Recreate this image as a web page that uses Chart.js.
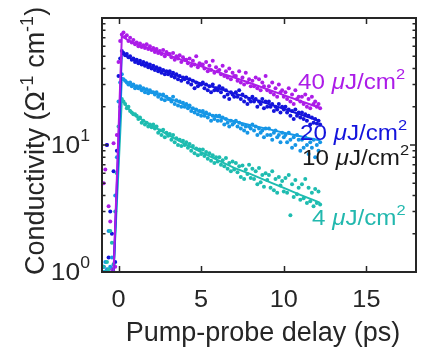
<!DOCTYPE html>
<html>
<head>
<meta charset="utf-8">
<script src="https://cdn.jsdelivr.net/npm/chart.js@4.4.1/dist/chart.umd.min.js"></script>
<style>
html,body{margin:0;padding:0;background:#fff;}
#wrap{width:422px;height:349px;}
</style>
</head>
<body>
<div id="wrap"><canvas id="c" width="422" height="349"></canvas></div>
<script>
// ---------- DATA ----------
const delay = [
 -0.9,-0.8,-0.7,-0.6,-0.5,-0.4,-0.3,-0.2,-0.1,0.0,
 0.1,0.2,0.3,0.4,0.5,0.6,0.7,0.8,0.9,1.0,
 1.1,1.2,1.3,1.4,1.5,1.6,1.7,1.8,1.9,2.0,
 2.1,2.2,2.3,2.4,2.5,2.6,2.7,2.8,2.9,3.0,
 3.1,3.2,3.3,3.4,3.5,3.6,3.7,3.8,3.9,4.0,
 4.1,4.2,4.3,4.4,4.5,4.6,4.7,4.8,4.9,5.0,
 5.1,5.2,5.3,5.4,5.5,5.6,5.7,5.8,5.9,6.0,
 6.1,6.2,6.3,6.4,6.5,6.6,6.7,6.8,6.9,7.0,
 7.1,7.2,7.3,7.4,7.5,7.6,7.7,7.8,7.9,8.0,
 8.1,8.2,8.3,8.4,8.5,8.6,8.7,8.8,8.9,9.0,
 9.1,9.2,9.3,9.4,9.5,9.6,9.7,9.8,9.9,10.0,
 10.1,10.2,10.3,10.4,10.5,10.6,10.7,10.8,10.9,11.0,
 11.1,11.2,11.3,11.4,11.5,11.6,11.7,11.8,11.9,12.0,
 12.1,12.2
];
const meas40 = [
 5.0,6.4,10,3.3,2.5,1.05,10.3,1.1,12,45,
 66,74,77,71,73,66,70,64,67,62,
 64,60,63,59,61,58,62,57,60,56,
 58,54,57,53,55,52,56,50,54,52,
 52,49,53,47,50,48,51,45,49,47,
 47,44,48,42,46,43,50,41,44,43,
 43,40,45,38,42,39,46,37,41,38,
 39,36,42,35,38,34,40,33,37,35,
 35,32,38,31,34,30,37,31,33,29,
 32,29,34,28,33,27,31,29,35,27,
 29,26,31,25,28,24,30,26,27,24,
 26,23,28,22,25,21,27,23,24,22,
 24,21,25,20,23,19.5,24,21,22,20,
 21,19.5
];
const meas20 = [
 1.1,1.0,10,1.3,3.0,2.0,6.2,1.2,9,35,
 48,55,53,51,52,49,50,47,48,45,
 47,44,46,43,45,42,44,41,43,40,
 42,39,41,38,40,37,39,36,38,36,
 38,35,37,34,36,33,35,32,34,33,
 34,31,33,30,32,28,31,29,30,30,
 31,28,30,27,29,26,30,27,28,27,
 29,26,28,24,27,25,23,26,25,24,
 26,24,27,23,25,22,24,21,23,22,
 24,22,23,20,22,21,23,19.5,22,20,
 22,20,21,18.5,20,19,21,18,20,19,
 20,18,19,17,18.5,16,19,17,18,16.5,
 18,16,17.5,15.5,17,14.5,16.5,15,16,14.8,
 15.5,14.5
];
const meas10 = [
 1.0,1.2,1.05,2.1,1.1,1.3,1.0,4,8,22,
 31,36,33,32,31,30,31,29,30,28,
 29,28,29,27,28,26,27.5,25.5,27,26,
 26,25,26,24,25,23,25,22.5,24,23,
 23,22,24,21,22.5,20.5,22,20,21.5,20,
 21,19.5,20.5,18.5,19.5,18,19,17.5,18.5,17,
 18.5,17,18,16.5,17.5,15.5,17,16,17,15.5,
 17,15.5,16.5,14.5,16,15,14,15.5,14.5,15,
 15.5,14,15,13.5,14.5,13,14,12.5,14,13.5,
 14.5,13,14,12,13.5,12.5,13,11.5,13.5,12,
 13.5,12,11,12.5,13,11.5,12,10.5,12.5,11.5,
 12,10.5,12.5,11,9.5,11.5,10,12,11,9,
 11,9.5,11.5,10,8.5,10.5,9.5,11,8,10,
 9,10.5
];
const meas4 = [
 1.1,1.0,1.2,1.05,2.1,1.7,1.15,3,6,14,
 20,23,22,21,19.5,20,18.5,18,17.5,17.5,
 17,16,16.5,15,15.5,14.5,15,14,14.5,13.8,
 14.5,13.5,14,12.5,13,12,13.2,11.5,12.5,11.8,
 12.2,11,12,10.5,11.3,10,11,9.8,10.8,10,
 10.5,9.5,10.2,9,9.8,8.6,9.4,8.3,9.2,8.5,
 9.2,8.2,8.8,7.8,8.6,7.5,8.3,7.2,8,7.4,
 8,7,7.6,6.8,7.9,6.5,7.2,6.2,7.4,6.4,
 7.2,6.1,6.8,5.6,6.9,5.4,6.4,5.9,7,5.5,
 6.5,5.4,6.2,4.9,6.6,5.1,5.8,4.7,6,5.3,
 5.8,4.6,6.2,4.4,5.4,4.2,5.6,4.8,5.2,4.3,
 5.5,4.2,5.8,2.8,4.9,3.9,5.3,4.1,4.6,3.7,
 4.9,3.8,5.4,3.5,4.6,3.6,4.2,3.3,4.5,3.5,
 4.3,3.4
];
// fitted curves
const fitDelay = [-0.3,0.2,0.5,1,2,3,4,5,6,7,8,9,10,11,12,12.2];
const fit40 = [1,72,68,63,57,51,46,41.7,37.5,34,30.6,27.5,24.7,22.2,20,19.6];
const fit20 = [1,53,50,46,41,37,33.5,30.5,28,25.5,23.3,21.2,19.3,17.4,15.7,15.4];
const fit10 = [1,34,31.5,29,26,23.5,20.8,18,16.6,15.4,14.3,13.4,12.5,11.7,11,10.9];
const fit4  = [1,23,20,17,14.3,12,10.2,8.8,7.6,6.6,5.9,5.2,4.6,4.05,3.6,3.5];

const seriesNames = ['40', '20', '10', '4'];
const xTicks = [0, 5, 10, 15];
const yMajor = [1, 10, 100];
const yMinor = [2,3,4,5,6,7,8,9,20,30,40,50,60,70,80,90];

// ---------- STYLE ----------
const colors = ['#ac1ce8', '#1414dc', '#1696e6', '#1ebcb0'];
const labelColors = ['#ac1ce8', '#1414dc', '#1a1a1a', '#22b8ae'];
const FONT = "'Liberation Sans', Arial, Helvetica, sans-serif";
const INK = '#262626';

function pts(xs, ys){ return xs.map((x,i)=>({x:x, y:ys[i]})); }
const measAll = [meas40, meas20, meas10, meas4];
const fitAll = [fit40, fit20, fit10, fit4];

const datasets = [];
fitAll.forEach((f,i)=>{
  datasets.push({data: pts(fitDelay, f), showLine: true, borderColor: colors[i], borderWidth: 2,
    pointRadius: 0, fill: false, tension: 0, order: 0});
});
measAll.forEach((m,i)=>{
  datasets.push({data: pts(delay, m), showLine: false, backgroundColor: colors[i], borderWidth: 0,
    pointRadius: 2, pointHoverRadius: 2, order: 1 + (3 - i)});
});

function drawRich(ctx, x, y, segs, align, sx){
  sx = sx || 1;
  let w = 0;
  segs.forEach(s=>{ ctx.font = s.font; s.w = ctx.measureText(s.t).width; w += s.w; });
  let x0 = x;
  if (align === 'center') x0 = x - w*sx/2;
  else if (align === 'right') x0 = x - w*sx;
  ctx.save();
  ctx.translate(x0, y);
  ctx.scale(sx, 1);
  let cx = 0;
  segs.forEach(s=>{ ctx.font = s.font; ctx.fillStyle = s.c; ctx.textBaseline = 'alphabetic';
    ctx.fillText(s.t, cx, s.dy || 0); cx += s.w; });
  ctx.restore();
}

const deco = {
  id: 'deco',
  afterDraw(chart){
    const ctx = chart.ctx, a = chart.chartArea, xs = chart.scales.x, ys = chart.scales.y;
    ctx.save();
    ctx.strokeStyle = INK;
    ctx.lineWidth = 1.5;
    ctx.beginPath();
    xTicks.forEach(v=>{
      const p = Math.round(xs.getPixelForValue(v)) + 0.5;
      ctx.moveTo(p, a.bottom); ctx.lineTo(p, a.bottom - 6);
      ctx.moveTo(p, a.top); ctx.lineTo(p, a.top + 6);
    });
    yMajor.forEach(v=>{
      const p = ys.getPixelForValue(v);
      ctx.moveTo(a.left, p); ctx.lineTo(a.left + 6, p);
      ctx.moveTo(a.right, p); ctx.lineTo(a.right - 6, p);
    });
    yMinor.forEach(v=>{
      const p = ys.getPixelForValue(v);
      ctx.moveTo(a.left, p); ctx.lineTo(a.left + 3.5, p);
      ctx.moveTo(a.right, p); ctx.lineTo(a.right - 3.5, p);
    });
    ctx.stroke();
    ctx.lineWidth = 2;
    ctx.strokeRect(a.left, a.top, a.right - a.left, a.bottom - a.top);

    // x tick labels
    const tf = '23px ' + FONT;
    xTicks.forEach(v=>{
      drawRich(ctx, xs.getPixelForValue(v), a.bottom + 35, [{t: String(v), font: tf, c: INK}], 'center', 1.1);
    });
    // y tick labels (10^n)
    [[1,'0'],[10,'1']].forEach(([v,e])=>{
      const p = ys.getPixelForValue(v);
      drawRich(ctx, a.left - 12, p + 8, [
        {t:'10', font: '24px ' + FONT, c: INK},
        {t:e, font: '16px ' + FONT, c: INK, dy: -12}
      ], 'right', 1.1);
    });
    // axis titles
    const af = '27px ' + FONT;
    drawRich(ctx, 263, 341, [{t:'Pump-probe delay (ps)', font: af, c: INK}], 'center', 1.0);
    ctx.save();
    ctx.translate(44, 141);
    ctx.rotate(-Math.PI/2);
    drawRich(ctx, 0, 0, [
      {t:'Conductivity (\u03A9', font: af, c: INK},
      {t:'-1', font: '18px ' + FONT, c: INK, dy: -11},
      {t:' cm', font: af, c: INK},
      {t:'-1', font: '18px ' + FONT, c: INK, dy: -11},
      {t:')', font: af, c: INK}
    ], 'center', 1.0);
    ctx.restore();

    // series labels
    const lf = '22px ' + FONT, li = 'italic 22px ' + FONT, ls = '15px ' + FONT;
    const pos = [[298,89],[300,140],[302,165],[312,225]];
    seriesNames.forEach((n,i)=>{
      const c = labelColors[i];
      drawRich(ctx, pos[i][0], pos[i][1], [
        {t: n + ' ', font: lf, c},
        {t: '\u03BC', font: li, c},
        {t: 'J/cm', font: lf, c},
        {t: '2', font: ls, c, dy: -10}
      ], 'left', 1.1);
    });
    ctx.restore();
  }
};

new Chart(document.getElementById('c'), {
  type: 'scatter',
  data: { datasets },
  options: {
    responsive: false,
    animation: false,
    devicePixelRatio: 1,
    layout: { padding: { left: 102, right: 6, top: 18, bottom: 77 } },
    plugins: { legend: { display: false }, tooltip: { enabled: false } },
    scales: {
      x: { type: 'linear', min: -1, max: 18,
           ticks: { display: false }, grid: { display: false, drawTicks: false }, border: { display: false } },
      y: { type: 'logarithmic', min: 1, max: 100,
           ticks: { display: false }, grid: { display: false, drawTicks: false }, border: { display: false } }
    }
  },
  plugins: [deco]
});
</script>
</body>
</html>
